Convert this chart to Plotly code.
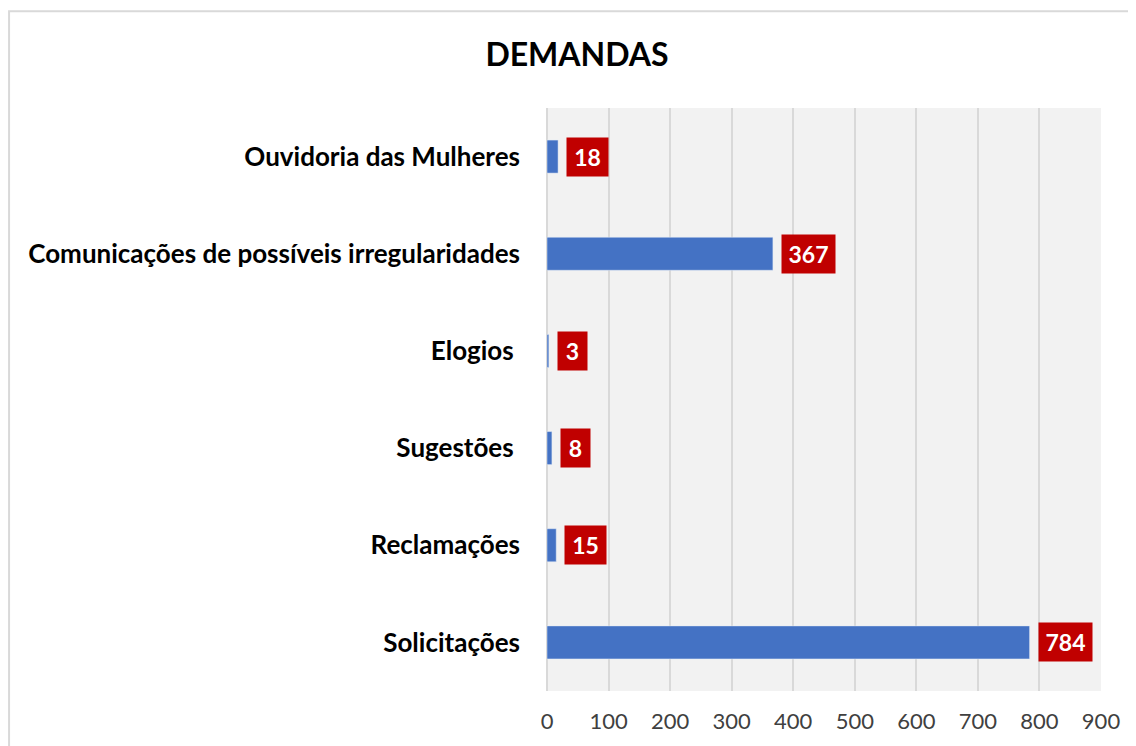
import plotly.graph_objects as go

categories = [
    "Solicitações",
    "Reclamações",
    "Sugestões\u00a0",
    "Elogios\u00a0",
    "Comunicações de possíveis irregularidades",
    "Ouvidoria das Mulheres",
]
values = [784, 15, 8, 3, 367, 18]
x_ticks = [0, 100, 200, 300, 400, 500, 600, 700, 800, 900]

FONT = "Lato"
BLUE = "#4472c4"
RED = "#c00000"

fig = go.Figure(
    go.Bar(
        x=values,
        y=categories,
        orientation="h",
        marker_color=BLUE,
        width=0.34,
    )
)

# value labels in red boxes next to each bar
for cat, val in zip(categories, values):
    n = len(str(val))
    fig.add_annotation(
        x=val,
        y=cat,
        text=f"<b>{val}</b>",
        showarrow=False,
        xanchor="left",
        xshift=8,
        font={"family": FONT, "size": 23, "color": "white"},
        bgcolor=RED,
        borderpad=4,
        width=12 * n + 9,
        height=30,
    )

# outer chart border (page body adds an 8px offset)
fig.add_shape(
    type="rect",
    xref="paper",
    yref="paper",
    x0=-0.971,
    x1=1.3,
    y0=-0.3,
    y1=1.166,
    line={"color": "#d9d9d9", "width": 2},
)

fig.update_layout(
    width=1136,
    height=746,
    margin={"l": 539, "r": 43, "t": 100, "b": 63},
    paper_bgcolor="white",
    plot_bgcolor="#f2f2f2",
    showlegend=False,
    title={
        "text": "<b>DEMANDAS</b>",
        "x": 569 / 1136,
        "xanchor": "center",
        "y": 1 - 47 / 746,
        "yanchor": "middle",
        "font": {"family": FONT, "size": 32, "color": "black"},
    },
)
fig.update_xaxes(
    range=[0, 900],
    tickvals=x_ticks,
    showgrid=True,
    gridcolor="#d9d9d9",
    gridwidth=2,
    zeroline=True,
    zerolinecolor="#d9d9d9",
    zerolinewidth=2,
    tickfont={"family": FONT, "size": 22, "color": "#404040"},
    ticklen=0,
    ticklabelstandoff=15,
    fixedrange=True,
)
fig.update_yaxes(
    categoryorder="array",
    categoryarray=categories,
    tickfont={"family": FONT, "size": 26, "color": "black"},
    ticklabelstandoff=26,
    ticklen=0,
    showgrid=False,
    tickprefix="<b>",
    ticksuffix="</b>",
    fixedrange=True,
)

fig.write_html("out.html")
